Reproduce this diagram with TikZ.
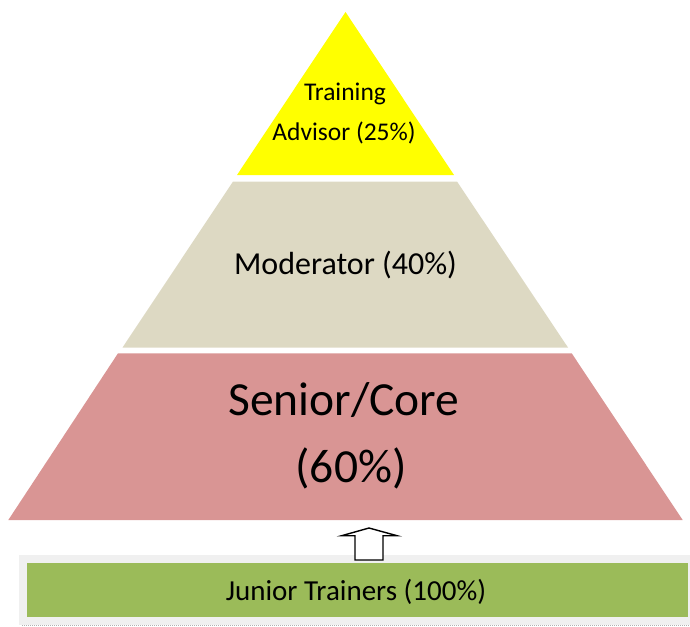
\documentclass[tikz,border=0pt]{standalone}
\usepackage{fontspec}
\setmainfont{Carlito}
\definecolor{topyellow}{HTML}{FFFF00}
\definecolor{midbeige}{HTML}{DDD9C3}
\definecolor{lowpink}{HTML}{D99594}
\definecolor{basegreen}{HTML}{9BBB59}
\definecolor{basegray}{HTML}{F0F0F0}
\tikzset{
  layer/.style={draw=none},
  lbl/.style={anchor=base, inner sep=0pt, text=black},
  upblock/.style={draw=black, line width=1.4pt, fill=white, line join=miter},
}
\begin{document}
\begin{tikzpicture}[x=1pt,y=-1pt]
\useasboundingbox (0,0) rectangle (690,626);
% layers
\fill[topyellow, layer] (345.5,12) -- (454,175) -- (237,175) -- cycle;
\fill[midbeige, layer] (233,181.5) -- (457,181.5) -- (568,347.5) -- (122.5,347.5) -- cycle;
\fill[lowpink, layer] (118,353.3) -- (571.7,353.3) -- (682.7,520) -- (8.3,520) -- cycle;
% base bar
\fill[basegray] (19.3,555) rectangle (690,625);
\draw[gray!60, line width=0.6pt, dash pattern=on 1pt off 1pt] (22,625.5) -- (690,625.5);
\fill[basegreen] (27.3,563.3) rectangle (688.3,617.3);
% arrow
\draw[upblock] (369,528) -- (397,535.7) -- (383,535.7) -- (383,560) -- (355,560) -- (355,535.7) -- (341.7,535.7) -- cycle;
% labels
\node[lbl, font=\fontsize{25.5}{25.5}\selectfont] (t1) at (345,100) {Training};
\node[lbl, font=\fontsize{25.5}{25.5}\selectfont] (t2) at (344,140) {Advisor (25\%)};
\node[lbl, font=\fontsize{32}{32}\selectfont] (m) at (345.5,274.3) {Moderator (40\%)};
\node[lbl, font=\fontsize{47.5}{47.5}\selectfont] (s1) at (344,415) {Senior/Core};
\node[lbl, font=\fontsize{47.5}{47.5}\selectfont] (s2) at (351,482) {(60\%)};
\node[lbl, font=\fontsize{29}{29}\selectfont] (j) at (356,600) {Junior Trainers (100\%)};
\end{tikzpicture}
\end{document}
